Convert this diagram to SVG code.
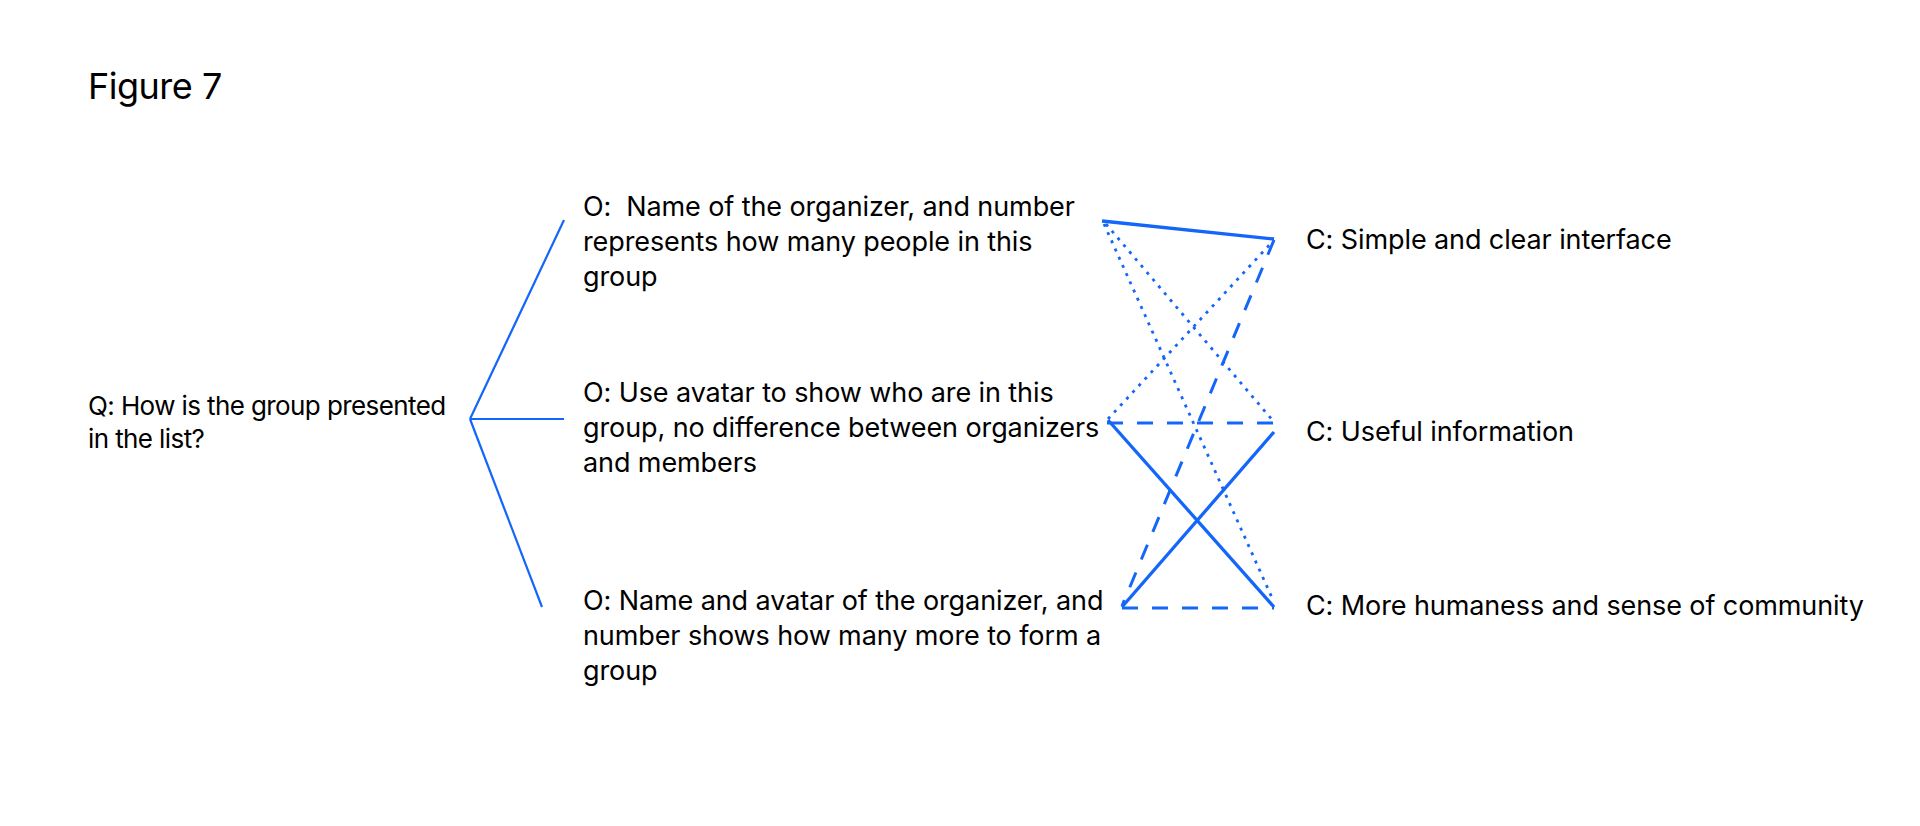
<svg xmlns="http://www.w3.org/2000/svg" width="1920" height="826" viewBox="0 0 1920 826">
<style>
text{font-family:Inter,"Noto Sans","Liberation Sans",sans-serif;font-size:27px;letter-spacing:-0.1px;fill:#000}
.t{font-size:36px;letter-spacing:-0.5px}
.q{font-size:26px;letter-spacing:-0.6px}
.c{stroke:#1466FA;fill:none;stroke-linecap:butt}
.thin{stroke-width:2.2}
.solid{stroke-width:3.3}
.dash{stroke-width:3;stroke-dasharray:16 14}
.dot{stroke-width:2.8;stroke-dasharray:3 6}
</style>
<rect width="1920" height="826" fill="#fff"/>
<g id="title"><text class="t" x="88" y="99">Figure 7</text></g>
<g id="q"><text class="q" x="88" y="415">Q: How is the group presented</text><text class="q" x="88" y="448">in the list?</text></g>
<g id="o1"><text x="583" y="216">O:&#160; Name of the organizer, and number</text><text x="583" y="251">represents how many people in this</text><text x="583" y="286">group</text></g>
<g id="o2"><text x="583" y="402">O: Use avatar to show who are in this</text><text x="583" y="437">group, no difference between organizers</text><text x="583" y="472">and members</text></g>
<g id="o3"><text x="583" y="610">O: Name and avatar of the organizer, and</text><text x="583" y="645">number shows how many more to form a</text><text x="583" y="680">group</text></g>
<g id="c1"><text x="1306" y="249">C: Simple and clear interface</text></g>
<g id="c2"><text x="1306" y="441">C: Useful information</text></g>
<g id="c3"><text x="1306" y="615">C: More humaness and sense of community</text></g>
<g id="connectors">
<line class="c thin" x1="470" y1="419" x2="564" y2="220"/>
<line class="c thin" x1="470" y1="419" x2="564" y2="419"/>
<line class="c thin" x1="470" y1="419" x2="542" y2="607"/>
<line class="c solid" x1="1102" y1="221" x2="1274" y2="239"/>
<line class="c dot" x1="1106" y1="224" x2="1274" y2="422"/>
<line class="c dot" x1="1104" y1="224" x2="1273" y2="600"/>
<line class="c dot" x1="1108" y1="419" x2="1274" y2="240"/>
<line class="c dash" x1="1107" y1="423" x2="1274" y2="423"/>
<line class="c solid" x1="1108" y1="420" x2="1274" y2="607"/>
<line class="c dash" x1="1274" y1="240" x2="1122" y2="606"/>
<line class="c solid" x1="1274" y1="432" x2="1122" y2="607"/>
<line class="c dash" x1="1122" y1="608" x2="1274" y2="608"/>
</g>
</svg>
